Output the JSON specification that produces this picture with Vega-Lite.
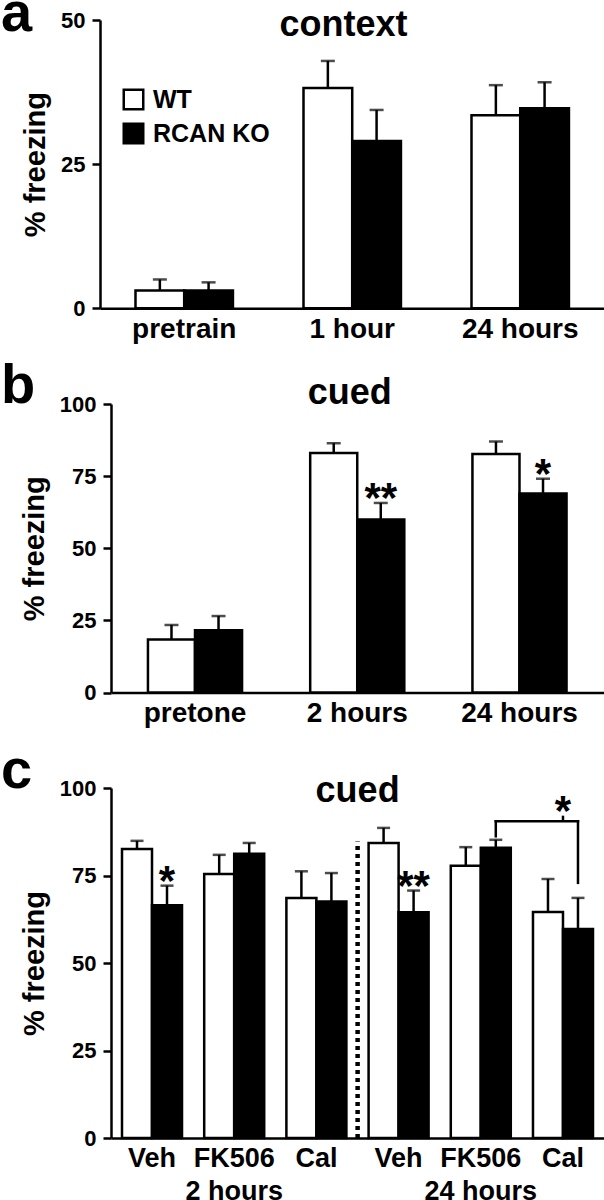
{
  "$schema": "https://vega.github.io/schema/vega-lite/v6.json",
  "background": "white",
  "padding": {"left": 0, "top": -14, "right": 0, "bottom": 0},
  "columns": 1,
  "align": "all",
  "bounds": "flush",
  "center": true,
  "spacing": 34,
  "resolve": {"scale": {"x": "independent", "xOffset": "independent", "y": "independent"}},
  "concat": [
    {
      "title": {"text": "a", "offset": -36, "dx": -20.5},
      "width": 516,
      "height": 288.3,
      "data": {"values": [
        {"time": "pretrain", "genotype": "WT", "value": 3.1, "upper": 5.0},
        {"time": "pretrain", "genotype": "RCAN KO", "value": 3.1, "upper": 4.5},
        {"time": "1 hour", "genotype": "WT", "value": 38.2, "upper": 42.9},
        {"time": "1 hour", "genotype": "RCAN KO", "value": 29.0, "upper": 34.4},
        {"time": "24 hours", "genotype": "WT", "value": 33.5, "upper": 38.7},
        {"time": "24 hours", "genotype": "RCAN KO", "value": 34.7, "upper": 39.2}
      ]},
      "layer": [
        {
          "mark": {"type": "bar", "stroke": "black", "strokeWidth": 2.5},
          "encoding": {
            "x": {"field": "time", "type": "nominal", "sort": ["pretrain", "1 hour", "24 hours"], "scale": {"type": "band", "domain": ["pretrain", "1 hour", "24 hours"], "paddingInner": 0.42, "paddingOuter": 0.2457, "align": 0.43}, "axis": {"title": null}},
            "xOffset": {"field": "genotype", "type": "nominal", "sort": ["WT", "RCAN KO"], "scale": {"type": "band", "domain": ["WT", "RCAN KO"], "paddingInner": 0, "paddingOuter": 0}},
            "y": {"field": "value", "type": "quantitative", "scale": {"domain": [0, 50], "nice": false}, "axis": {"values": [0, 25, 50], "title": "% freezing"}},
            "color": {"field": "genotype", "type": "nominal", "scale": {"domain": ["WT", "RCAN KO"], "range": ["white", "black"]},
              "legend": {"title": null, "orient": "none", "legendX": 21, "legendY": 67, "symbolType": "square", "symbolSize": 380, "symbolStrokeColor": "black", "symbolStrokeWidth": 2.5, "labelFontSize": 25, "labelFontWeight": "bold", "labelColor": "black", "labelOffset": 7, "rowPadding": 3, "padding": 0}}
          }
        },
        {
          "mark": {"type": "rule", "strokeWidth": 2.5, "color": "black"},
          "encoding": {
            "x": {"field": "time", "type": "nominal"},
            "xOffset": {"field": "genotype", "type": "nominal"},
            "y": {"field": "value", "type": "quantitative"},
            "y2": {"field": "upper"}
          }
        },
        {
          "mark": {"type": "tick", "thickness": 2.5, "size": 14, "color": "black"},
          "encoding": {
            "x": {"field": "time", "type": "nominal"},
            "xOffset": {"field": "genotype", "type": "nominal"},
            "y": {"field": "upper", "type": "quantitative"}
          }
        },
        {
          "data": {"values": [{"label": "context"}]},
          "mark": {"type": "text", "fontSize": 36, "fontWeight": "bold", "baseline": "alphabetic", "align": "center", "color": "black"},
          "encoding": {
            "x": {"datum": "1 hour", "bandPosition": 0.41},
            "y": {"datum": 47.2, "type": "quantitative"},
            "text": {"field": "label"}
          }
        }
      ]
    },
    {
      "title": {"text": "b", "offset": -40, "dx": -19.3},
      "width": 494,
      "height": 288.5,
      "data": {"values": [
        {"time": "pretone", "genotype": "WT", "value": 18.4, "upper": 23.4},
        {"time": "pretone", "genotype": "RCAN KO", "value": 21.6, "upper": 26.5},
        {"time": "2 hours", "genotype": "WT", "value": 83.0, "upper": 86.4},
        {"time": "2 hours", "genotype": "RCAN KO", "value": 60.0, "upper": 65.7, "sig": "**"},
        {"time": "24 hours", "genotype": "WT", "value": 82.7, "upper": 87.0},
        {"time": "24 hours", "genotype": "RCAN KO", "value": 69.0, "upper": 74.1, "sig": "*"}
      ]},
      "layer": [
        {
          "mark": {"type": "bar", "stroke": "black", "strokeWidth": 2.5},
          "encoding": {
            "x": {"field": "time", "type": "nominal", "sort": ["pretone", "2 hours", "24 hours"], "scale": {"type": "band", "domain": ["pretone", "2 hours", "24 hours"], "paddingInner": 0.42, "paddingOuter": 0.2324, "align": 0.49}, "axis": {"title": null}},
            "xOffset": {"field": "genotype", "type": "nominal", "sort": ["WT", "RCAN KO"], "scale": {"type": "band", "domain": ["WT", "RCAN KO"], "paddingInner": 0, "paddingOuter": 0}},
            "y": {"field": "value", "type": "quantitative", "scale": {"domain": [0, 100], "nice": false}, "axis": {"values": [0, 25, 50, 75, 100], "title": "% freezing"}},
            "color": {"field": "genotype", "type": "nominal", "scale": {"domain": ["WT", "RCAN KO"], "range": ["white", "black"]}, "legend": null}
          }
        },
        {
          "mark": {"type": "rule", "strokeWidth": 2.5, "color": "black"},
          "encoding": {
            "x": {"field": "time", "type": "nominal"},
            "xOffset": {"field": "genotype", "type": "nominal"},
            "y": {"field": "value", "type": "quantitative"},
            "y2": {"field": "upper"}
          }
        },
        {
          "mark": {"type": "tick", "thickness": 2.5, "size": 14, "color": "black"},
          "encoding": {
            "x": {"field": "time", "type": "nominal"},
            "xOffset": {"field": "genotype", "type": "nominal"},
            "y": {"field": "upper", "type": "quantitative"}
          }
        },
        {
          "transform": [{"filter": "datum.sig"}],
          "mark": {"type": "text", "fontSize": 42, "fontWeight": "bold", "baseline": "alphabetic", "align": "center", "dy": 9, "color": "black"},
          "encoding": {
            "x": {"field": "time", "type": "nominal"},
            "xOffset": {"field": "genotype", "type": "nominal"},
            "y": {"field": "upper", "type": "quantitative"},
            "text": {"field": "sig"}
          }
        },
        {
          "data": {"values": [{"label": "cued"}]},
          "mark": {"type": "text", "fontSize": 36, "fontWeight": "bold", "baseline": "alphabetic", "align": "center", "color": "black"},
          "encoding": {
            "x": {"datum": "2 hours", "bandPosition": 0.42},
            "y": {"datum": 100, "type": "quantitative"},
            "text": {"field": "label"}
          }
        }
      ]
    },
    {
      "title": {"text": "c", "offset": -27, "dx": -19.3},
      "width": 494,
      "height": 350,
      "data": {"values": [
        {"cond": "2h Veh", "genotype": "WT", "value": 82.6, "upper": 84.9},
        {"cond": "2h Veh", "genotype": "RCAN KO", "value": 66.5, "upper": 72.1, "sig": "*"},
        {"cond": "2h FK506", "genotype": "WT", "value": 75.4, "upper": 80.9},
        {"cond": "2h FK506", "genotype": "RCAN KO", "value": 81.2, "upper": 84.3},
        {"cond": "2h Cal", "genotype": "WT", "value": 68.6, "upper": 76.2},
        {"cond": "2h Cal", "genotype": "RCAN KO", "value": 67.6, "upper": 75.7},
        {"cond": "24h Veh", "genotype": "WT", "value": 84.3, "upper": 88.6},
        {"cond": "24h Veh", "genotype": "RCAN KO", "value": 64.5, "upper": 70.7, "sig": "**"},
        {"cond": "24h FK506", "genotype": "WT", "value": 77.8, "upper": 83.1},
        {"cond": "24h FK506", "genotype": "RCAN KO", "value": 82.9, "upper": 85.2},
        {"cond": "24h Cal", "genotype": "WT", "value": 64.6, "upper": 74.0},
        {"cond": "24h Cal", "genotype": "RCAN KO", "value": 59.7, "upper": 68.6}
      ]},
      "layer": [
        {
          "mark": {"type": "bar", "stroke": "black", "strokeWidth": 2.5},
          "encoding": {
            "x": {"field": "cond", "type": "nominal", "sort": ["2h Veh", "2h FK506", "2h Cal", "24h Veh", "24h FK506", "24h Cal"],
              "scale": {"type": "band", "domain": ["2h Veh", "2h FK506", "2h Cal", "24h Veh", "24h FK506", "24h Cal"], "paddingInner": 0.27, "paddingOuter": 0.14, "align": 0.478},
              "axis": {"title": null, "labelFontSize": 27, "labelLineHeight": 33, "labelExpr": "datum.value == '2h FK506' ? ['FK506', '2 hours'] : datum.value == '24h FK506' ? ['FK506', '24 hours'] : split(datum.value, ' ')[1]"}},
            "xOffset": {"field": "genotype", "type": "nominal", "sort": ["WT", "RCAN KO"], "scale": {"type": "band", "domain": ["WT", "RCAN KO"], "paddingInner": 0, "paddingOuter": 0}},
            "y": {"field": "value", "type": "quantitative", "scale": {"domain": [0, 100], "nice": false}, "axis": {"values": [0, 25, 50, 75, 100], "title": "% freezing"}},
            "color": {"field": "genotype", "type": "nominal", "scale": {"domain": ["WT", "RCAN KO"], "range": ["white", "black"]}, "legend": null}
          }
        },
        {
          "mark": {"type": "rule", "strokeWidth": 2.5, "color": "black"},
          "encoding": {
            "x": {"field": "cond", "type": "nominal"},
            "xOffset": {"field": "genotype", "type": "nominal"},
            "y": {"field": "value", "type": "quantitative"},
            "y2": {"field": "upper"}
          }
        },
        {
          "mark": {"type": "tick", "thickness": 2.5, "size": 13, "color": "black"},
          "encoding": {
            "x": {"field": "cond", "type": "nominal"},
            "xOffset": {"field": "genotype", "type": "nominal"},
            "y": {"field": "upper", "type": "quantitative"}
          }
        },
        {
          "transform": [{"filter": "datum.sig"}],
          "mark": {"type": "text", "fontSize": 42, "fontWeight": "bold", "baseline": "alphabetic", "align": "center", "dy": 9, "color": "black"},
          "encoding": {
            "x": {"field": "cond", "type": "nominal"},
            "xOffset": {"field": "genotype", "type": "nominal"},
            "y": {"field": "upper", "type": "quantitative"},
            "text": {"field": "sig"}
          }
        },
        {
          "data": {"values": [
            {"from": "24h FK506", "to": "24h FK506", "y": 86.2, "y2": 90.5},
            {"from": "24h FK506", "to": "24h Cal", "y": 90.5, "y2": 90.5},
            {"from": "24h Cal", "to": "24h Cal", "y": 72.9, "y2": 90.5}
          ]},
          "mark": {"type": "rule", "strokeWidth": 2.5, "color": "black", "strokeCap": "square"},
          "encoding": {
            "x": {"field": "from", "type": "nominal", "bandPosition": 0.75},
            "x2": {"field": "to", "bandPosition": 0.75},
            "y": {"field": "y", "type": "quantitative"},
            "y2": {"field": "y2"}
          }
        },
        {
          "data": {"values": [{"cond": "24h Cal", "y": 90.5, "y2": 92.1}]},
          "mark": {"type": "rule", "strokeWidth": 2.5, "color": "black"},
          "encoding": {
            "x": {"field": "cond", "type": "nominal"},
            "y": {"field": "y", "type": "quantitative"},
            "y2": {"field": "y2"}
          }
        },
        {
          "data": {"values": [{"cond": "24h Cal", "y": 92.1, "label": "*"}]},
          "mark": {"type": "text", "fontSize": 42, "fontWeight": "bold", "baseline": "alphabetic", "align": "center", "dy": 9, "color": "black"},
          "encoding": {
            "x": {"field": "cond", "type": "nominal"},
            "y": {"field": "y", "type": "quantitative"},
            "text": {"field": "label"}
          }
        },
        {
          "data": {"values": [{"label": "divider"}]},
          "mark": {"type": "rule", "strokeWidth": 4.5, "strokeDash": [4, 4], "color": "black"},
          "encoding": {
            "x": {"datum": "24h Veh", "bandPosition": -0.183},
            "y": {"datum": 0, "type": "quantitative"},
            "y2": {"datum": 84.7}
          }
        },
        {
          "data": {"values": [{"label": "cued"}]},
          "mark": {"type": "text", "fontSize": 36, "fontWeight": "bold", "baseline": "alphabetic", "align": "center", "color": "black"},
          "encoding": {
            "x": {"datum": "24h Veh", "bandPosition": -0.183},
            "y": {"datum": 96, "type": "quantitative"},
            "text": {"field": "label"}
          }
        }
      ]
    }
  ],
  "config": {
    "font": "Liberation Sans",
    "view": {"stroke": null},
    "axis": {"grid": false, "domainColor": "black", "domainWidth": 2.5, "tickColor": "black", "tickWidth": 2.5, "labelColor": "black", "labelFontWeight": "bold", "titleColor": "black", "titleFontWeight": "bold", "labelFont": "Liberation Sans", "titleFont": "Liberation Sans"},
    "axisY": {"tickSize": 8, "labelFontSize": 22, "labelPadding": 7, "titleFontSize": 29, "titlePadding": 10},
    "axisX": {"ticks": false, "labelFontSize": 28, "labelPadding": 7, "labelAngle": 0, "labelOverlap": false, "labelBound": false},
    "title": {"fontSize": 56, "fontWeight": "bold", "anchor": "start", "frame": "bounds", "color": "black", "baseline": "alphabetic"}
  }
}
